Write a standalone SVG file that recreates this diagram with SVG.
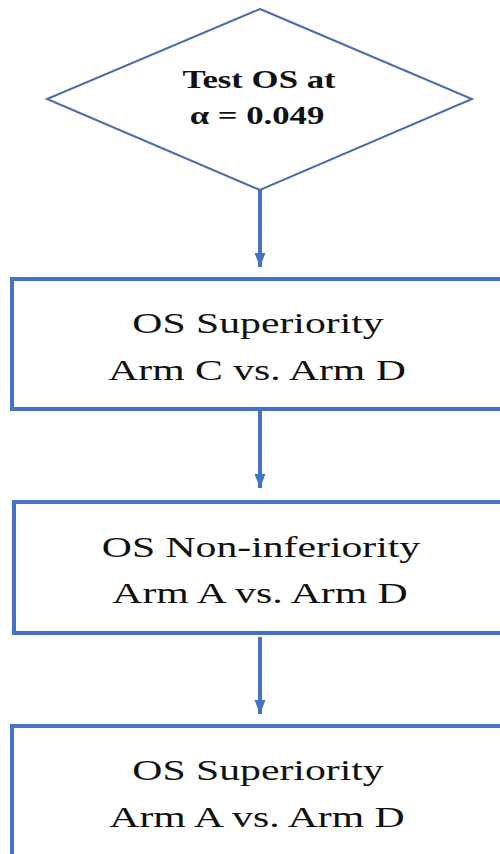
<svg xmlns="http://www.w3.org/2000/svg" width="500" height="854" viewBox="0 0 500 854">
<defs>
<style>
.box{fill:#fff;stroke:#4472C4;stroke-width:4}
.dia{fill:#fff;stroke:#4A6BAE;stroke-width:2}
.t{font-family:'Liberation Serif','Times New Roman',serif;font-size:30px;fill:#111}
.tb{font-family:'Liberation Serif','Times New Roman',serif;font-size:25px;font-weight:bold;fill:#111}
.conn{stroke:#4472C4;stroke-width:4;fill:none}
</style>
<marker id="ah" viewBox="0 0 14 11" refX="14" refY="5.5" markerWidth="14" markerHeight="11" markerUnits="userSpaceOnUse" orient="auto">
<path d="M0,0 L14,5.5 L0,11 z" fill="#4472C4"/>
</marker>
</defs>
<rect width="500" height="854" fill="#fff"/>
<g id="connectors">
<line class="conn" x1="260" y1="190" x2="260" y2="267" marker-end="url(#ah)"/>
<line class="conn" x1="260" y1="411" x2="260" y2="488" marker-end="url(#ah)"/>
<line class="conn" x1="260" y1="637" x2="260" y2="714" marker-end="url(#ah)"/>
</g>
<g id="decision">
<polygon class="dia" points="260,9 472,99 260,190 47,99"/>
<text class="tb" font-family="Liberation Serif" text-anchor="middle" transform="translate(259,88) scale(1.39,1)">Test OS at</text>
<text class="tb" font-family="Liberation Serif" text-anchor="middle" transform="translate(257,124) scale(1.39,1)">α = 0.049</text>
</g>
<g id="box1">
<rect class="box" x="12" y="279" width="500" height="130"/>
<text class="t" font-family="Liberation Serif" text-anchor="middle" transform="translate(258,333) scale(1.39,1)">OS Superiority</text>
<text class="t" font-family="Liberation Serif" text-anchor="middle" transform="translate(257,380) scale(1.39,1)">Arm C vs. Arm D</text>
</g>
<g id="box2">
<rect class="box" x="14" y="502" width="500" height="131"/>
<text class="t" font-family="Liberation Serif" text-anchor="middle" transform="translate(261,557) scale(1.39,1)">OS Non-inferiority</text>
<text class="t" font-family="Liberation Serif" text-anchor="middle" transform="translate(260,603) scale(1.39,1)">Arm A vs. Arm D</text>
</g>
<g id="box3">
<rect class="box" x="12" y="726" width="500" height="140"/>
<text class="t" font-family="Liberation Serif" text-anchor="middle" transform="translate(258,780) scale(1.39,1)">OS Superiority</text>
<text class="t" font-family="Liberation Serif" text-anchor="middle" transform="translate(257,827) scale(1.39,1)">Arm A vs. Arm D</text>
</g>
</svg>
